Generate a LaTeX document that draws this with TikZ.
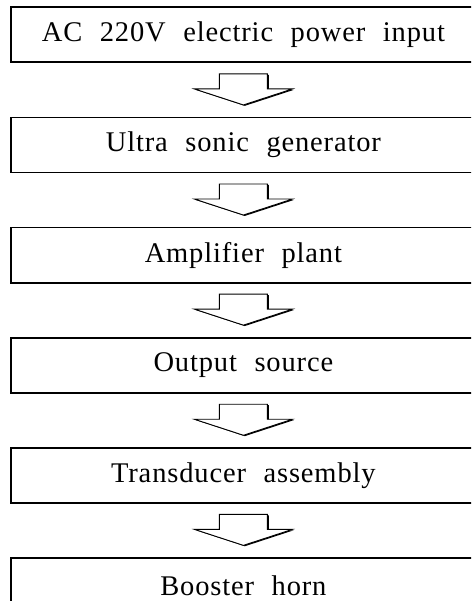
\documentclass[tikz,border=0pt]{standalone}
\usepackage{fontspec}
\setmainfont{Liberation Serif}[WordSpace=2.2,LetterSpace=3]
\usetikzlibrary{positioning,calc,shadows}
\tikzset{
    stage/.style={
    rectangle,draw=black,line width=1.8pt,minimum width=465pt,minimum height=55pt,inner sep=0pt,
    font=\fontsize{28.5}{31}\selectfont
    },
    flow/.style={
    draw=black,line width=0.9pt,fill=white,line join=miter,
    drop shadow={shadow xshift=1.4pt,shadow yshift=-0.9pt,opacity=1,fill=black}
    },
}

\begin{document}
\begin{tikzpicture}[x=1pt, y=1pt, node distance=53.3pt]
  \useasboundingbox (0,0) rectangle (471,-601);
  \clip (0,0) rectangle (471,-601);
  \node[stage, anchor=north west] (b1) at (10,-6.5) {AC 220V electric power input};
  \node[stage, below=of b1] (b2) {Ultra sonic generator};
  \node[stage, below=of b2] (b3) {Amplifier plant};
  \node[stage, below=of b3] (b4) {Output source};
  \node[stage, below=of b4] (b5) {Transducer assembly};
  \node[stage, below=of b5] (b6) {Booster horn};

  \foreach \a/\b in {b1/b2,b2/b3,b3/b4,b4/b5,b5/b6}
    \draw[flow] ($(\a.south)!0.5!(\b.north)$) +(-24,16) -- +(24,16) -- +(24,1)
      -- +(49,1) -- +(0,-15) -- +(-49,1) -- +(-24,1) -- cycle;
\end{tikzpicture}
\end{document}
